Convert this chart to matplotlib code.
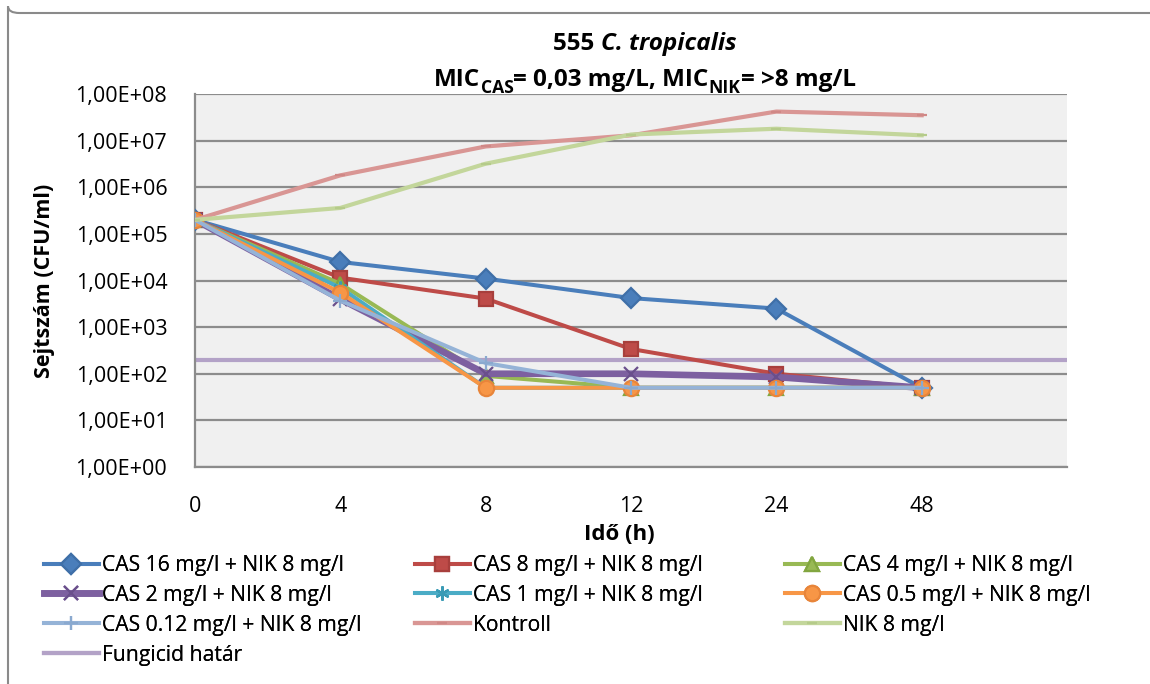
import matplotlib
matplotlib.use("Agg")
import matplotlib.pyplot as plt
import numpy as np
from matplotlib.patches import FancyBboxPatch
from matplotlib.ticker import FixedLocator, FuncFormatter

# time points (categories) and series values
times = ["0", "4", "8", "12", "24", "48"]
cas16 = [2.0e5, 2.5e4, 1.1e4, 4.2e3, 2.5e3, 50]
cas8 = [2.0e5, 1.15e4, 4.1e3, 340, 100, 50]
cas4 = [2.0e5, 8.5e3, 90, 50, 50, 50]
cas2 = [2.0e5, 4.0e3, 100, 100, 85, 50]
cas1 = [2.0e5, 7.0e3, 50, 50, 50, 50]
cas05 = [2.0e5, 5.5e3, 50, 50, 50, 50]
cas012 = [2.0e5, 3.7e3, 170, 50, 50, 50]
kontroll = [2.0e5, 1.8e6, 7.5e6, 1.3e7, 4.2e7, 3.5e7]
nik8 = [2.0e5, 3.6e5, 3.2e6, 1.35e7, 1.8e7, 1.3e7]
fungicid = [200, 200, 200, 200, 200, 200, 200]

labels = [
    "CAS 16 mg/l + NIK 8 mg/l", "CAS 8 mg/l + NIK 8 mg/l", "CAS 4 mg/l + NIK 8 mg/l",
    "CAS 2 mg/l + NIK 8 mg/l", "CAS 1 mg/l + NIK 8 mg/l", "CAS 0.5 mg/l + NIK 8 mg/l",
    "CAS 0.12 mg/l + NIK 8 mg/l", "Kontroll", "NIK 8 mg/l", "Fungicid határ",
]
yticks = [1e0, 1e1, 1e2, 1e3, 1e4, 1e5, 1e6, 1e7, 1e8]

plt.rcParams['font.family'] = ['Open Sans', 'DejaVu Sans']

W, H = 1150, 684
fig = plt.figure(figsize=(W / 100, H / 100), dpi=100)
fig.patch.set_facecolor("white")

# outer chart border
border = FancyBboxPatch((8 / W, 1 - 13 / H), 1.2, -1.2, boxstyle="round,pad=0,rounding_size=0.01",
                        transform=fig.transFigure, facecolor="none", edgecolor="#8a8a8a",
                        linewidth=1.5, clip_on=False)
fig.patches.append(border)

left, right, top, bottom = 195, 1067, 94, 467
ax = fig.add_axes([left / W, 1 - bottom / H, (right - left) / W, (bottom - top) / H])
ax.set_facecolor("#f0f0f0")

x = np.arange(len(times))
xf = np.arange(len(fungicid))

styles = [
    (cas16, "#4a7ebb", "D", 10, 2.9, "#3f6fa8"),
    (cas8, "#be4b48", "s", 10, 2.9, "#a83f3c"),
    (cas4, "#98b954", "^", 10, 2.9, "#82a640"),
    (cas2, "#7d60a0", "x", 10, 4.8, "#6a4f8c"),
    (cas1, "#4bacc6", (6, 2, 0), 10, 2.9, "#3a9bb5"),
    (cas05, "#f79646", "o", 11, 2.9, "#e8853a"),
    (cas012, "#95b3d7", "+", 10, 2.9, "#8aa9cf"),
    (kontroll, "#d99694", "_", 7, 3.0, "#d08886"),
    (nik8, "#c3d69b", "_", 7, 3.0, "#b5cb8a"),
]

handles = []
for (vals, col, mk, ms, lw, mec), lab in zip(styles, labels):
    h, = ax.plot(x, vals, color=col, lw=lw, marker=mk, ms=ms, mfc=col, mec=mec,
                 mew=1.6, label=lab, zorder=3, solid_joinstyle="round")
    handles.append(h)
h, = ax.plot(xf, fungicid, color="#b3a2c7", lw=3.0, label=labels[9], zorder=2)
handles.append(h)

ax.set_yscale("log")
ax.set_ylim(1, 1e8)
ax.set_xlim(0, 6)
ax.yaxis.set_major_locator(FixedLocator(yticks))
ax.yaxis.set_minor_locator(FixedLocator([]))
ax.yaxis.set_major_formatter(FuncFormatter(lambda v, p: "1,00E+%02d" % round(np.log10(v))))
ax.set_xticks(x)
ax.set_xticklabels(times)
ax.tick_params(length=0, labelsize=15.5, colors="black")
ax.tick_params(axis="y", pad=20)
ax.tick_params(axis="x", pad=21)
ax.grid(axis="y", color="#8c8c8c", lw=1.6)
ax.set_axisbelow(True)
for s in ("top", "right"):
    ax.spines[s].set_visible(False)
for s in ("left", "bottom"):
    ax.spines[s].set_color("#8c8c8c")
    ax.spines[s].set_linewidth(1.6)

# title built from pieces: bold, italic species name, subscripts
renderer = fig.canvas.get_renderer()


def text_line(pieces, xc, yc, size):
    arts = []
    for txt, style, sub in pieces:
        fs = size * 0.72 if sub else size
        arts.append(fig.text(0, 0, txt, fontsize=fs, fontweight="bold", fontstyle=style,
                             ha="left", va="baseline"))
    widths = [a.get_window_extent(renderer).width for a in arts]
    xpos = xc - sum(widths) / 2
    for a, w, (txt, style, sub) in zip(arts, widths, pieces):
        ybase = yc + (7 if sub else 0)
        a.set_position((xpos / W, 1 - ybase / H))
        xpos += w


text_line([("555 ", "normal", False), ("C. tropicalis", "italic", False)], 645, 50, 17.5)
text_line([("MIC", "normal", False), ("CAS", "normal", True), ("= 0,03 mg/L, MIC", "normal", False),
           ("NIK", "normal", True), ("= >8 mg/L", "normal", False)], 645, 86, 17.5)

fig.text(45 / W, 1 - 281 / H, "Sejtszám (CFU/ml)", rotation=90, ha="center", va="center",
         fontsize=15.5, fontweight="bold")
fig.text(619 / W, 1 - 535 / H, "Idő (h)", ha="center", va="center", fontsize=16, fontweight="bold")

# legend, three columns placed like Excel (row-major order)
cols = [[0, 3, 6, 9], [1, 4, 7], [2, 5, 8]]
col_x = [44, 415, 785]
for cx, idx in zip(col_x, cols):
    leg = fig.legend([handles[i] for i in idx], [labels[i] for i in idx], loc="upper left",
                     bbox_to_anchor=(cx / W, 1 - 555 / H), frameon=False, fontsize=15.2,
                     handlelength=2.6, handletextpad=0.15, labelspacing=0.42, borderaxespad=0,
                     borderpad=0, markerscale=1)
    fig.add_artist(leg)

fig.savefig("out.png", dpi=100, facecolor="white")
